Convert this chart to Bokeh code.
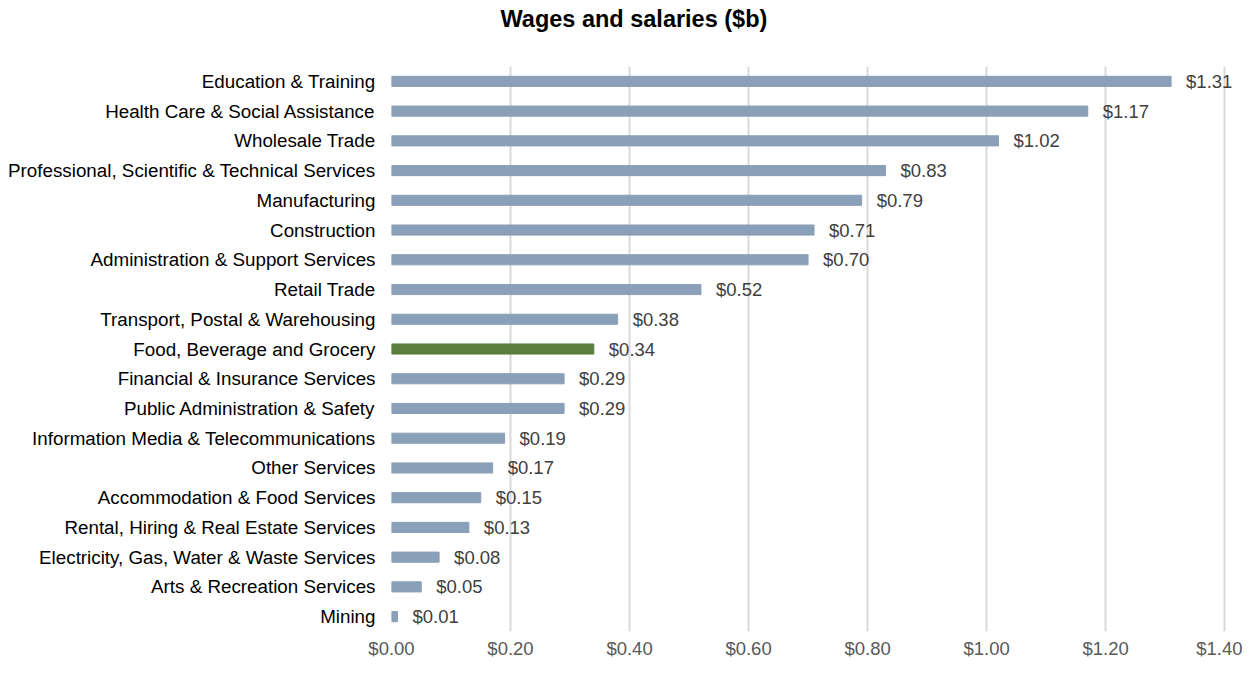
from bokeh.plotting import figure
from bokeh.models import (ColumnDataSource, FactorRange, Range1d, NumeralTickFormatter,
                          FixedTicker, LabelSet, Title)
from bokeh.embed import file_html
from bokeh.resources import INLINE
from bokeh.core.properties import value

categories = [
    "Education & Training",
    "Health Care & Social Assistance",
    "Wholesale Trade",
    "Professional, Scientific & Technical Services",
    "Manufacturing",
    "Construction",
    "Administration & Support Services",
    "Retail Trade",
    "Transport, Postal & Warehousing",
    "Food, Beverage and Grocery",
    "Financial & Insurance Services",
    "Public Administration & Safety",
    "Information Media & Telecommunications",
    "Other Services",
    "Accommodation & Food Services",
    "Rental, Hiring & Real Estate Services",
    "Electricity, Gas, Water & Waste Services",
    "Arts & Recreation Services",
    "Mining",
]
values = [1.31, 1.17, 1.02, 0.83, 0.79, 0.71, 0.70, 0.52, 0.38, 0.34,
          0.29, 0.29, 0.19, 0.17, 0.15, 0.13, 0.08, 0.05, 0.01]
highlight = "Food, Beverage and Grocery"
x_ticks = [0.0, 0.2, 0.4, 0.6, 0.8, 1.0, 1.2, 1.4]
title_text = "Wages and salaries ($b)"

BLUE = "#8A9FB8"
GREEN = "#5B7F3F"
FONT = "Liberation Sans"
FS = "18.5px"
colors = [GREEN if c == highlight else BLUE for c in categories]
labels = ["$%.2f" % v for v in values]

src = ColumnDataSource(dict(cat=categories, val=values, color=colors, label=labels))

p = figure(
    width=1242, height=661,
    y_range=FactorRange(factors=list(reversed(categories)), range_padding=0),
    x_range=Range1d(0, 1.43),
    output_backend="svg", toolbar_location=None,
    min_border_left=391, min_border_right=0, min_border_top=66, min_border_bottom=25,
)
p.outline_line_color = None
p.background_fill_color = "white"
p.border_fill_color = "white"

p.hbar(y="cat", right="val", left=0, height=0.34, color="color", source=src)

data_labels = LabelSet(x="val", y="cat", text="label", source=src, x_offset=15,
                       text_baseline="middle", text_align="left", text_color="#404040",
                       text_font=value(FONT), text_font_size=value(FS))
p.add_layout(data_labels)

# spacer between frame and title
p.add_layout(Title(text=" ", text_font_size="1px", standoff=32), "above")

p.title.text = title_text
p.title.align = "left"
p.title.offset = 109
p.title.vertical_align = "bottom"
p.title.standoff = 0
p.title.text_font = FONT
p.title.text_font_size = "23.5px"
p.title.text_font_style = "bold"
p.title.text_color = "#000000"

p.xaxis.ticker = FixedTicker(ticks=x_ticks)
p.xaxis.formatter = NumeralTickFormatter(format="$0.00")
p.xaxis.axis_line_color = None
p.xaxis.major_tick_line_color = None
p.xaxis.minor_tick_line_color = None
p.xaxis.major_tick_in = 0
p.xaxis.major_tick_out = 0
p.xaxis.major_label_standoff = 6
p.xaxis.major_label_text_font = FONT
p.xaxis.major_label_text_font_size = FS
p.xaxis.major_label_text_color = "#595959"

p.yaxis.axis_line_color = None
p.yaxis.major_tick_line_color = None
p.yaxis.major_tick_in = 0
p.yaxis.major_tick_out = 0
p.yaxis.major_label_standoff = 16
p.yaxis.major_label_text_font = FONT
p.yaxis.major_label_text_font_size = "18.8px"
p.yaxis.major_label_text_color = "#000000"

p.ygrid.grid_line_color = None
p.xgrid.grid_line_color = "#D9D9D9"
p.xgrid.grid_line_width = 2

open("out.html", "w").write(file_html(p, INLINE))
